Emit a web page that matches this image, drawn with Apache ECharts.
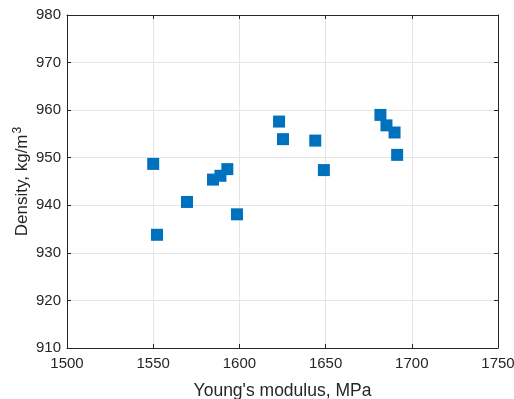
<!DOCTYPE html>
<html>
<head>
<meta charset="utf-8">
<script src="https://cdn.jsdelivr.net/npm/echarts@6/dist/echarts.min.js"></script>
<style>
  html, body { margin: 0; padding: 0; background: #fff; }
  #chart { width: 514px; height: 399px; }
</style>
</head>
<body>
<div id="chart"></div>
<script>
// Young's modulus (MPa) vs density (kg/m3)
const modulus = [1550, 1552.2, 1569.6, 1584.7, 1589, 1593, 1598.6, 1623, 1625.3, 1644, 1649, 1681.8, 1685.3, 1690, 1691.5];
const density = [948.7, 933.8, 940.7, 945.4, 946.2, 947.6, 938.1, 957.6, 953.9, 953.6, 947.4, 959.0, 956.8, 955.3, 950.6];

const points = modulus.map((m, i) => [m, density[i]]);

const myChart = echarts.init(document.querySelector('#chart'));

const axisColor = '#262626';
const fontFamily = '"Liberation Sans", Arial, sans-serif';

const option = {
  animation: false,
  grid: {
    left: 67,
    right: 16,
    top: 15,
    bottom: 51,
    containLabel: false,
    outerBoundsMode: 'none'
  },
  xAxis: [
    {
      type: 'value',
      min: 1500,
      max: 1750,
      interval: 50,
      name: "Young's modulus, MPa",
      nameLocation: 'middle',
      nameGap: 34,
      nameMoveOverlap: false,
      nameTextStyle: { color: axisColor, fontSize: 17.5, fontFamily },
      axisLine: { show: true, lineStyle: { color: axisColor, width: 1 } },
      axisTick: { show: true, inside: true, length: 4, lineStyle: { color: axisColor } },
      axisLabel: { color: axisColor, fontSize: 15, fontFamily, margin: 8, formatter: v => String(v) },
      splitLine: { show: true, lineStyle: { color: '#e5e5e5', width: 1 } }
    },
    {
      type: 'value',
      position: 'top',
      min: 1500,
      max: 1750,
      interval: 50,
      axisLine: { show: true, lineStyle: { color: axisColor, width: 1 } },
      axisTick: { show: true, inside: true, length: 4, lineStyle: { color: axisColor } },
      axisLabel: { show: false },
      splitLine: { show: false }
    }
  ],
  yAxis: [
    {
      type: 'value',
      min: 910,
      max: 980,
      interval: 10,
      name: 'Density, kg/m{sup|3}',
      nameLocation: 'middle',
      nameGap: 35,
      nameMoveOverlap: false,
      nameTextStyle: {
        color: axisColor,
        fontSize: 17,
        fontFamily,
        rich: {
          sup: { fontSize: 12, color: axisColor, fontFamily, verticalAlign: 'top', padding: [0, 0, 8, 1] }
        }
      },
      axisLine: { show: true, lineStyle: { color: axisColor, width: 1 } },
      axisTick: { show: true, inside: true, length: 4, lineStyle: { color: axisColor } },
      axisLabel: { color: axisColor, fontSize: 15, fontFamily, margin: 6 },
      splitLine: { show: true, lineStyle: { color: '#e5e5e5', width: 1 } }
    },
    {
      type: 'value',
      position: 'right',
      min: 910,
      max: 980,
      interval: 10,
      axisLine: { show: true, lineStyle: { color: axisColor, width: 1 } },
      axisTick: { show: true, inside: true, length: 4, lineStyle: { color: axisColor } },
      axisLabel: { show: false },
      splitLine: { show: false }
    }
  ],
  series: [
    {
      type: 'scatter',
      xAxisIndex: 0,
      yAxisIndex: 0,
      symbol: 'rect',
      symbolSize: 12,
      itemStyle: { color: '#0072BD', opacity: 1 },
      data: points
    }
  ]
};

myChart.setOption(option);

window.addEventListener('resize', function() {
  myChart.resize();
});
</script>
</body>
</html>
